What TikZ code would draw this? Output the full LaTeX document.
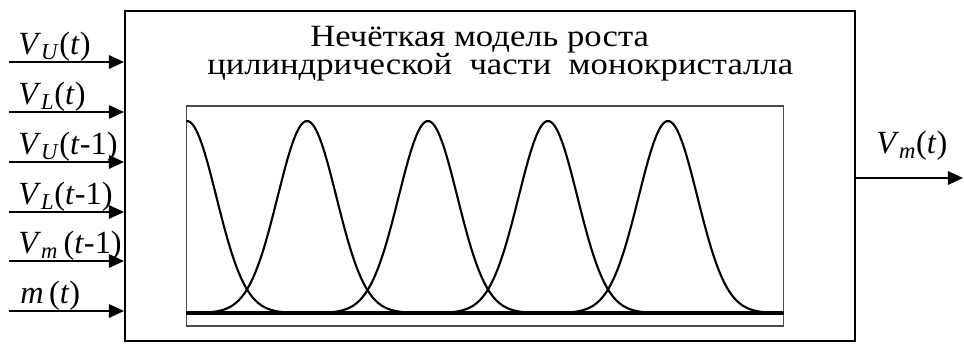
\documentclass[tikz,border=0pt]{standalone}
\usepackage{fontspec}
\setmainfont{Liberation Serif}
\usetikzlibrary{arrows.meta, positioning}

\newcommand{\sv}[2]{\textit{#1}\textsubscript{\textit{#2}}}
\newcommand{\wide}[1]{\scalebox{1.12}[1]{#1}}

\begin{document}
\begin{tikzpicture}[x=0.025cm, y=-0.025cm,
			blk/.style={draw=black, line width=1.3pt, minimum width=18.25cm, minimum height=8.25cm, inner sep=0pt},
			pbox/.style={draw=black!70, line width=0.8pt, minimum width=14.9cm, minimum height=5.5cm, inner sep=0pt},
			sig/.style={line width=1.3pt, -{Triangle[length=0.38cm, width=0.34cm]}},
			memb/.style={line width=1.5pt},
			base/.style={line width=2.6pt},
			lbl/.style={anchor=base west, inner sep=0pt, font=\fontsize{23}{26}\selectfont},
			ttl/.style={anchor=base west, inner sep=0pt, font=\fontsize{22}{26}\selectfont}
			]
			\useasboundingbox (0,0) rectangle (964,343);
			\node[blk] (model) at (490,176) {};
			\node[pbox] (mf) at (485,216) {};
			
			\node[ttl] (t1) at (310,46) {\wide{Нечёткая модель роста}};
			\node[ttl] (t2) at (207,74) {\wide{цилиндрической\ \ части\ \ монокристалла}};
			
			% membership functions
			\coordinate (b) at (0,313);
			\begin{scope}
				\clip (mf.south west) rectangle (mf.north east);
				\foreach \c [evaluate=\c as \lo using \c-120, evaluate=\c as \hi using \c+120] in {187,307,428,548,668}
				\draw[memb] plot[domain=\lo:\hi, samples=80, smooth] (\x, {313-192*exp(-((\x-\c)/29.3)^2/2)});
			\end{scope}
			\draw[base] (mf.west |- b) -- (mf.east |- b);
			
			% inputs
			\foreach \y/\n in {62/1, 112/2, 162/3, 212/4, 261/5, 311/6}
			{
				\coordinate (in\n) at (9,\y);
				\draw[sig] (in\n) -- (in\n -| model.west);
			}
			\node[lbl] (l1) at (18,54) {\sv{V}{U}(\textit{t})};
			\node[lbl] (l2) at (18,104) {\sv{V}{L}(\textit{t})};
			\node[lbl] (l3) at (18,154) {\sv{V}{U}(\textit{t}-1)};
			\node[lbl] (l4) at (18,204) {\sv{V}{L}(\textit{t}-1)};
			\node[lbl] (l5) at (18,253) {\sv{V}{m}\,(\textit{t}-1)};
			\node[lbl] (l6) at (20,303) {\textit{m}\,(\textit{t})};
			
			% output
			\coordinate (out) at (963,178);
			\draw[sig] (model.east |- out) -- (out);
			\node[lbl] (lo) at (876,153) {\sv{V}{m}(\textit{t})};
		\end{tikzpicture}
\end{document}
